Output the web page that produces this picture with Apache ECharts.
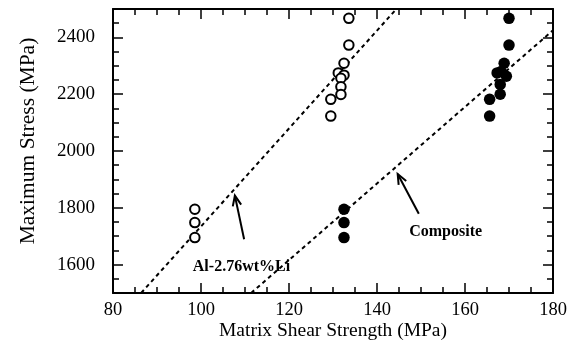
<!DOCTYPE html>
<html>
<head>
<meta charset="utf-8">
<script src="https://cdn.jsdelivr.net/npm/echarts@6/dist/echarts.min.js"></script>
<style>html,body{margin:0;padding:0;background:#fff}#c{width:570px;height:343px}</style>
</head>
<body>
<div id="c"></div>
<script>
// Data
var xTickLabels = [80, 100, 120, 140, 160, 180];
var yTickLabels = [1600, 1800, 2000, 2200, 2400];
var alLiPoints = [
  [98.6, 1795], [98.6, 1748], [98.6, 1695],
  [133.6, 2467], [133.6, 2373], [132.5, 2309], [131.2, 2275], [132.5, 2267],
  [131.8, 2256], [131.8, 2226], [131.8, 2199], [129.5, 2182], [129.5, 2123]
];
var compositePoints = [
  [132.5, 1795], [132.5, 1748], [132.5, 1695],
  [170.0, 2467], [170.0, 2373], [168.9, 2309], [167.3, 2275], [168.2, 2280], [169.4, 2263],
  [168.0, 2234], [168.0, 2200], [165.6, 2182], [165.6, 2123]
];
var alLiFit = [[86.4, 1500], [144.4, 2500]];
var compositeFit = [[111.4, 1500], [180, 2425]];
var arrows = [
  [109.8, 1689, 107.7, 1843],
  [149.5, 1779, 144.7, 1919]
];
var annotations = [
  [109.2, 1592, 'Al-2.76wt%Li'],
  [155.6, 1716, 'Composite']
];

var FONT = '"Liberation Serif", "DejaVu Serif", serif';
var black = '#000';

function yAxisBase(pos, major) {
  var a = {
    type: 'value', position: pos, min: 1500, max: 2500, interval: 50,
    axisLine: {show: !major, lineStyle: {color: black, width: 2}},
    axisTick: {show: true, inside: true, length: major ? 10 : 6, lineStyle: {color: black, width: 1.5}},
    axisLabel: {show: false},
    splitLine: {show: false}
  };
  if (major) a.axisTick.customValues = yTickLabels;
  return a;
}
function xAxisBase(pos) {
  return {
    type: 'value', position: pos, min: 80, max: 180, interval: 20,
    axisLine: {show: true, onZero: false, lineStyle: {color: black, width: 2}},
    axisTick: {show: true, inside: true, length: 10, lineStyle: {color: black, width: 1.5}},
    minorTick: {show: true, splitNumber: 4, length: 6, lineStyle: {color: black, width: 1.5}},
    axisLabel: {show: false},
    splitLine: {show: false}
  };
}

var xb = xAxisBase('bottom');
xb.axisLabel = {show: true, color: black, fontFamily: FONT, fontSize: 18.5, margin: 8,
  customValues: xTickLabels, formatter: function (v) { return String(v); }};
xb.name = 'Matrix Shear Strength (MPa)';
xb.nameLocation = 'middle';
xb.nameGap = 28;
xb.nameMoveOverlap = false;
xb.nameTextStyle = {color: black, fontFamily: FONT, fontSize: 19.5};

var yl = yAxisBase('left', false);
yl.axisLabel = {show: true, color: black, fontFamily: FONT, fontSize: 19, margin: 18,
  customValues: yTickLabels, formatter: function (v) { return String(v); }};
yl.name = 'Maximum Stress (MPa)';
yl.nameLocation = 'middle';
yl.nameGap = 74;
yl.nameMoveOverlap = false;
yl.nameTextStyle = {color: black, fontFamily: FONT, fontSize: 21.5, padding: [0, 0, 0, 20]};

var chart = echarts.init(document.getElementById('c'), null, {renderer: 'canvas'});
chart.setOption({
  animation: false,
  backgroundColor: '#fff',
  grid: {left: 113, right: 17, top: 9, bottom: 50, containLabel: false, outerBoundsMode: 'none'},
  xAxis: [xb, xAxisBase('top')],
  yAxis: [yl, yAxisBase('left', true), yAxisBase('right', false), yAxisBase('right', true)],
  series: [
    {
      type: 'line', data: alLiFit, showSymbol: false, symbol: 'none',
      lineStyle: {color: black, width: 2, type: [4, 3.5]}, z: 1
    },
    {
      type: 'line', data: compositeFit, showSymbol: false, symbol: 'none',
      lineStyle: {color: black, width: 2, type: [4, 3.5]}, z: 1
    },
    {
      type: 'scatter', data: alLiPoints, symbol: 'circle', symbolSize: 9.5,
      itemStyle: {color: '#fff', borderColor: black, borderWidth: 2, opacity: 1}, z: 3
    },
    {
      type: 'scatter', data: compositePoints, symbol: 'circle', symbolSize: 11.5,
      itemStyle: {color: black, borderColor: black, borderWidth: 0, opacity: 1}, z: 3
    },
    {
      type: 'custom', data: arrows, encode: {x: [0, 2], y: [1, 3]}, z: 4,
      renderItem: function (params, api) {
        var p1 = api.coord([api.value(0), api.value(1)]);
        var p2 = api.coord([api.value(2), api.value(3)]);
        var ang = Math.atan2(p1[1] - p2[1], p1[0] - p2[0]);
        var L = 11, da = 0.4;
        var h1 = [p2[0] + L * Math.cos(ang + da), p2[1] + L * Math.sin(ang + da)];
        var h2 = [p2[0] + L * Math.cos(ang - da), p2[1] + L * Math.sin(ang - da)];
        var st = {stroke: black, lineWidth: 2, fill: null};
        return {
          type: 'group', children: [
            {type: 'line', shape: {x1: p1[0], y1: p1[1], x2: p2[0], y2: p2[1]}, style: st},
            {type: 'polyline', shape: {points: [h1, p2, h2]}, style: st}
          ]
        };
      }
    },
    {
      type: 'custom', data: annotations, encode: {x: 0, y: 1}, z: 5,
      renderItem: function (params, api) {
        var p = api.coord([api.value(0), api.value(1)]);
        return {
          type: 'text', x: p[0], y: p[1],
          style: {text: annotations[params.dataIndex][2], fill: black, align: 'center', verticalAlign: 'middle',
            font: 'bold 16px ' + FONT}
        };
      }
    }
  ]
});
</script>
</body>
</html>
